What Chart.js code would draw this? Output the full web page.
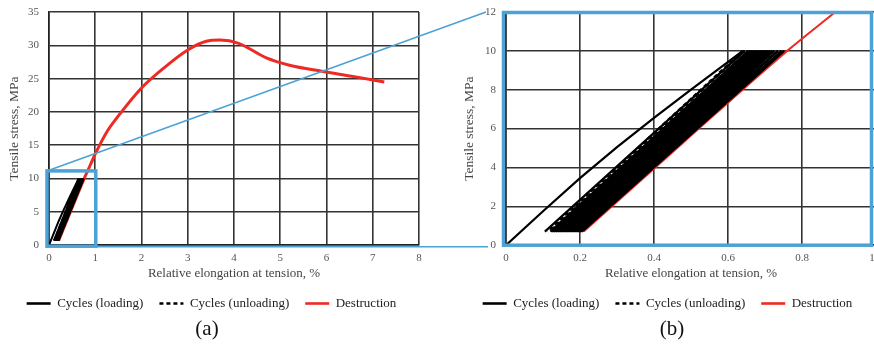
<!DOCTYPE html>
<html>
<head>
<meta charset="utf-8">
<script src="https://cdn.jsdelivr.net/npm/chart.js@4.4.1/dist/chart.umd.min.js"></script>
<style>
  html, body { margin: 0; padding: 0; background: #fff; width: 874px; height: 349px; overflow: hidden; position: relative; }
  #chartA { position: absolute; left: 0; top: 0; }
  #chartB { position: absolute; left: 455px; top: 0; }
  #overlay { position: absolute; left: 0; top: 0; pointer-events: none; }
  .cap { position: absolute; top: 316px; width: 60px; text-align: center; font-family: 'Liberation Serif', 'Times New Roman', serif; font-size: 21px; color: #111; }
</style>
</head>
<body>
<canvas id="chartA" width="426" height="320"></canvas>
<canvas id="chartB" width="435" height="320"></canvas>
<canvas id="overlay" width="874" height="349"></canvas>
<div class="cap" style="left:177px">(a)</div>
<div class="cap" style="left:642px">(b)</div>
<script>
//series names
var seriesNames = ["Cycles (loading)", "Cycles (unloading)", "Destruction"];

//first loading from zero
var firstLoadX = [0, 0.1, 0.2, 0.3, 0.4, 0.5, 0.64];
var firstLoadY = [0, 1.75, 3.45, 5.05, 6.55, 8.0, 10];

//repeated cycles between 0.7 and 10 MPa
var cycleLow = 0.7;
var cycleHigh = 10;
var cycleStartX = [0.105, 0.12, 0.125, 0.13, 0.135, 0.14, 0.145, 0.15, 0.155, 0.16, 0.165, 0.17, 0.175, 0.18, 0.185, 0.19, 0.195, 0.2, 0.205];
var cyclePeakX = [0.645, 0.655, 0.66, 0.665, 0.67, 0.675, 0.68, 0.685, 0.69, 0.695, 0.70, 0.705, 0.71, 0.715, 0.72, 0.725, 0.735, 0.745, 0.752];
var unloadFromX = [0.64, 0.645, 0.655, 0.66, 0.665, 0.67, 0.675, 0.68, 0.685, 0.69, 0.695, 0.70, 0.705, 0.71, 0.715, 0.72, 0.725, 0.735, 0.745];
var unloadToX = [0.112, 0.118, 0.123, 0.128, 0.133, 0.138, 0.143, 0.148, 0.153, 0.158, 0.163, 0.168, 0.173, 0.178, 0.183, 0.188, 0.193, 0.198, 0.203];

//destruction curve
var destructionX = [0.21, 0.48, 0.76, 0.89, 1.0, 1.25, 1.5, 2.0, 2.5, 3.0, 3.4, 3.7, 4.1, 4.7, 5.2, 5.9, 6.6, 7.25];
var destructionY = [0.7, 5.3, 10, 12, 13.7, 17, 19.4, 23.6, 26.7, 29.3, 30.6, 30.8, 30.3, 28.1, 27.0, 26.1, 25.3, 24.5];

//axes (a) full test, (b) zoomed part
var xMaxA = 8, xStepA = 1, yMaxA = 35, yStepA = 5;
var xMaxB = 1, xStepB = 0.2, yMaxB = 12, yStepB = 2;
var zoomBoxX = 1, zoomBoxY = 11.15;

var xTitle = "Relative elongation at tension, %";
var yTitle = "Tensile stress, MPa";

var blue = "#4ca2d5";
var gridColor = "#333";

Chart.defaults.font.family = "'Liberation Serif', 'Times New Roman', serif";

function loadingData() {
  var pts = [];
  for (var i = 0; i < firstLoadX.length; i++) pts.push({ x: firstLoadX[i], y: firstLoadY[i] });
  pts.push({ x: firstLoadX[firstLoadX.length - 1], y: null });
  for (var j = 0; j < cycleStartX.length; j++) {
    pts.push({ x: cycleStartX[j], y: cycleLow });
    pts.push({ x: cyclePeakX[j], y: cycleHigh });
    pts.push({ x: cyclePeakX[j], y: null });
  }
  return pts;
}

function unloadingData() {
  var pts = [];
  for (var j = 0; j < unloadFromX.length; j++) {
    pts.push({ x: unloadFromX[j], y: cycleHigh });
    pts.push({ x: unloadToX[j], y: cycleLow });
    pts.push({ x: unloadToX[j], y: null });
  }
  return pts;
}

function destructionData() {
  return destructionX.map(function (x, i) { return { x: x, y: destructionY[i] }; });
}

function makeDatasets(redWidth, blackWidth) {
  return [
    { label: seriesNames[0], data: loadingData(), borderColor: "#000", backgroundColor: "#000", borderWidth: blackWidth, pointRadius: 0, spanGaps: false },
    { label: seriesNames[1], data: unloadingData(), borderColor: "#000", backgroundColor: "#000", borderWidth: blackWidth, borderDash: [4, 3], pointRadius: 0, spanGaps: false },
    { label: seriesNames[2], data: destructionData(), borderColor: "#ee2a24", backgroundColor: "#ee2a24", borderWidth: redWidth, pointRadius: 0, cubicInterpolationMode: "monotone" }
  ];
}

function legendLabels(chart) {
  var items = Chart.defaults.plugins.legend.labels.generateLabels(chart);
  items.forEach(function (it) {
    var ds = chart.data.datasets[it.datasetIndex];
    it.lineDash = ds.borderDash || [];
    it.lineWidth = 2.6;
    it.strokeStyle = ds.borderColor;
  });
  return items;
}

function makeOptions(xMax, xStep, yMax, yStep, yWidth, pad) {
  return {
    responsive: false,
    animation: false,
    layout: { padding: pad },
    plugins: {
      tooltip: { enabled: false },
      legend: {
        position: "bottom",
        labels: {
          usePointStyle: true,
          pointStyle: "line",
          pointStyleWidth: 24,
          padding: 16,
          color: "#222",
          font: { size: 13 },
          generateLabels: legendLabels
        }
      }
    },
    scales: {
      x: {
        type: "linear", min: 0, max: xMax,
        ticks: { stepSize: xStep, color: "#555", font: { size: 11 }, padding: 6 },
        grid: { color: gridColor, lineWidth: 1.6, drawTicks: false },
        border: { color: "#222", width: 1.6 },
        title: { display: true, text: xTitle, color: "#444", font: { size: 13 }, padding: { top: -5, bottom: 0 } },
        afterFit: function (scale) { scale.paddingLeft = 0; scale.paddingRight = 0; }
      },
      y: {
        type: "linear", min: 0, max: yMax,
        ticks: { stepSize: yStep, color: "#555", font: { size: 11 }, padding: 10 },
        grid: { color: gridColor, lineWidth: 1.6, drawTicks: false },
        border: { color: "#222", width: 1.6 },
        title: { display: true, text: yTitle, color: "#444", font: { size: 13.5 }, padding: { top: 2, bottom: 2 } },
        afterFit: function (scale) { scale.width = yWidth; scale.paddingTop = 0; scale.paddingBottom = 0; }
      }
    }
  };
}

var chartA = new Chart(document.getElementById("chartA"), {
  type: "line",
  data: { datasets: makeDatasets(3, 2) },
  options: makeOptions(xMaxA, xStepA, yMaxA, yStepA, 45, { left: 4, right: 7, top: 12, bottom: 0 })
});

var chartB = new Chart(document.getElementById("chartB"), {
  type: "line",
  data: { datasets: makeDatasets(2, 2.2) },
  options: makeOptions(xMaxB, xStepB, yMaxB, yStepB, 47, { left: 4, right: 14, top: 12, bottom: 0 })
});

//zoom box and connector lines across both panels
function drawOverlay() {
  var ctx = document.getElementById("overlay").getContext("2d");
  var offB = 455;
  var xa = chartA.scales.x, ya = chartA.scales.y;
  var xb = chartB.scales.x, yb = chartB.scales.y;

  var boxL = xa.getPixelForValue(0) - 2;
  var boxR = xa.getPixelForValue(zoomBoxX) + 0.5;
  var boxT = ya.getPixelForValue(zoomBoxY);
  var boxB = ya.getPixelForValue(0) + 1;

  ctx.strokeStyle = blue;
  ctx.lineWidth = 1.6;
  ctx.beginPath();
  ctx.moveTo(boxL, boxT);
  ctx.lineTo(offB + xb.getPixelForValue(0) - 20, yb.getPixelForValue(yMaxB));
  ctx.stroke();
  ctx.beginPath();
  ctx.moveTo(boxR, boxB + 0.5);
  ctx.lineTo(offB + xb.getPixelForValue(0) - 18, boxB + 0.5);
  ctx.stroke();

  ctx.lineWidth = 3.5;
  ctx.strokeRect(boxL, boxT, boxR - boxL, boxB - boxT);

  var area = chartB.chartArea;
  var fl = offB + area.left - 2.5;
  var ft = area.top + 0.5;
  var fr = Math.min(offB + area.right, 874) - 2.5;
  var fb = area.bottom;
  ctx.strokeRect(fl, ft, fr - fl, fb - ft);
}
drawOverlay();
</script>
</body>
</html>
